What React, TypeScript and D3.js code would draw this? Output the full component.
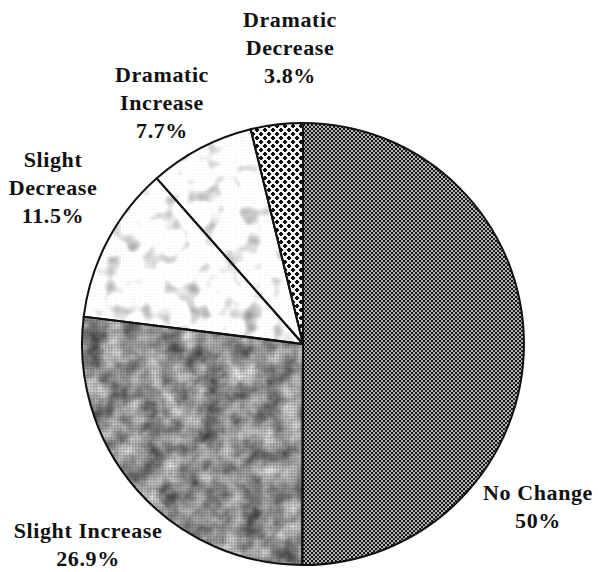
import React from 'react';
import * as d3 from 'd3';

const categories = ['No Change', 'Slight Increase', 'Slight Decrease', 'Dramatic Increase', 'Dramatic Decrease'];
const values = [50, 26.9, 11.5, 7.7, 3.8];
const nameLines = [['No Change'], ['Slight Increase'], ['Slight', 'Decrease'], ['Dramatic', 'Increase'], ['Dramatic', 'Decrease']];
const pctLabels = ['50%', '26.9%', '11.5%', '7.7%', '3.8%'];

// label block anchors (centre x, first baseline y)
const labelAnchors: [number, number][] = [
  [538, 500],
  [88, 538],
  [53, 167],
  [162, 82],
  [290, 27],
];

const fills = ['url(#checker)', 'url(#mottleDark)', 'url(#speckle)', 'url(#speckle)', 'url(#crosses)'];
const baseFills = ['#9a9a9a', '#8c8c8c', '#f6f6f6', '#f6f6f6', '#e8e8e8'];

const W = 598;
const H = 572;
const cx = 303;
const cy = 344;
const R = 221;
const lineH = 28;
const serif = "'Liberation Serif', 'Times New Roman', Times, serif";

export default function App() {
  const data = categories.map((c, i) => ({ name: c, value: values[i], i }));
  const pie = d3.pie<any>().sort(null).value((d) => d.value).startAngle(0).endAngle(2 * Math.PI);
  const arcs = pie(data);
  const arc = d3.arc<any>().innerRadius(0).outerRadius(R);

  return (
    <svg width={W} height={H} style={{ position: 'fixed', left: 0, top: 0, background: '#fff' }}>
      <defs>
        <pattern id="checker" width="4" height="4" patternUnits="userSpaceOnUse">
          <rect width="4" height="4" fill="#b4b4b4" />
          <rect x="0" y="0" width="2" height="2" fill="#111" />
          <rect x="2" y="2" width="2" height="2" fill="#222" />
        </pattern>
        <pattern id="crosses" width="8" height="8" patternUnits="userSpaceOnUse">
          <rect width="8" height="8" fill="#f4f4f4" />
          <path d="M2,0V4M0,2H4M6,4V8M4,6H8" stroke="#111" strokeWidth="2" />
        </pattern>
        <pattern id="dots" width="3" height="3" patternUnits="userSpaceOnUse">
          <rect width="1.5" height="1.5" fill="#333" />
        </pattern>
        <pattern id="ldots" width="3" height="3" patternUnits="userSpaceOnUse">
          <rect width="1" height="1" fill="#999" />
        </pattern>
        <filter id="mottleDark" x="0" y="0" width="1" height="1" colorInterpolationFilters="sRGB">
          <feTurbulence type="fractalNoise" baseFrequency="0.05" numOctaves="3" seed="4" result="n" />
          <feColorMatrix in="n" type="matrix"
            values="0.9 0 0 0 0.14  0.9 0 0 0 0.14  0.9 0 0 0 0.14  0 0 0 0 1" result="g" />
          <feComposite in="g" in2="SourceGraphic" operator="in" />
        </filter>
        <filter id="speckle" x="0" y="0" width="1" height="1" colorInterpolationFilters="sRGB">
          <feTurbulence type="fractalNoise" baseFrequency="0.05" numOctaves="2" seed="9" result="n" />
          <feColorMatrix in="n" type="matrix"
            values="1.2 0 0 0 0.45  1.2 0 0 0 0.45  1.2 0 0 0 0.45  0 0 0 0 1" result="g" />
          <feComposite in="g" in2="SourceGraphic" operator="in" />
        </filter>
      </defs>
      <g transform={`translate(${cx},${cy})`}>
        {arcs.map((a, k) => {
          const f = fills[k];
          const isFilter = f === 'url(#mottleDark)' || f === 'url(#speckle)';
          return (
            <g key={k}>
              <path d={arc(a) || ''} fill={isFilter ? baseFills[k] : f} filter={isFilter ? f : undefined} />
              {k === 1 && <path d={arc(a) || ''} fill="url(#dots)" opacity={0.3} />}
              {(k === 2 || k === 3) && <path d={arc(a) || ''} fill="url(#ldots)" opacity={0.15} />}
            </g>
          );
        })}
        {arcs.map((a, k) => (
          <path key={'s' + k} d={arc(a) || ''} fill="none" stroke="#111" strokeWidth={2} strokeLinejoin="round" />
        ))}
      </g>
      {arcs.map((a, k) => {
        const [lx, ly] = labelAnchors[k];
        const lines = [...nameLines[k], pctLabels[k]];
        return (
          <text key={'l' + k} x={lx} y={ly} textAnchor="middle"
            style={{ fontFamily: serif, fontWeight: 'bold', fontSize: '22px', letterSpacing: '0.6px' }} fill="#111">
            {lines.map((t, j) => (
              <tspan key={j} x={lx} y={ly + j * lineH}>{t}</tspan>
            ))}
          </text>
        );
      })}
    </svg>
  );
}
